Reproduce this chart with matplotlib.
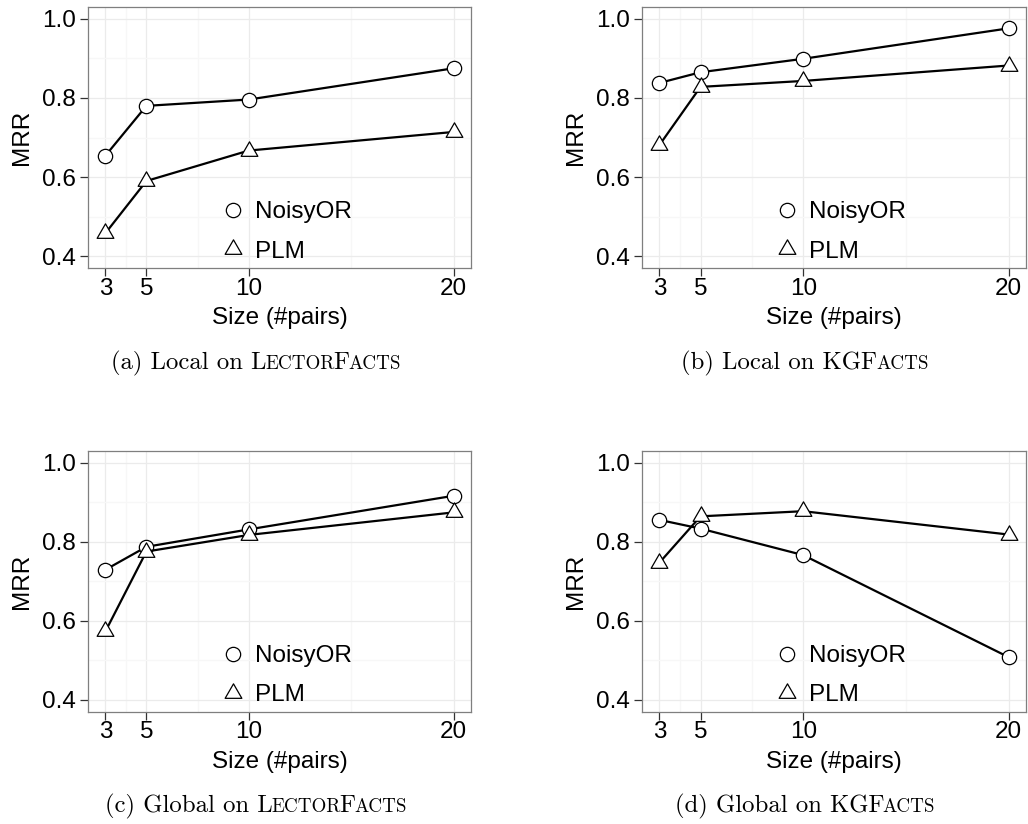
import matplotlib
matplotlib.use('Agg')
import matplotlib.pyplot as plt
from matplotlib.lines import Line2D
from matplotlib.path import Path
from matplotlib.offsetbox import TextArea, HPacker, AnchoredOffsetbox

# ---- data ----
sizes = [3, 5, 10, 20]

# (a) Local on LectorFacts
local_lector_noisyor = [0.654, 0.780, 0.796, 0.875]
local_lector_plm = [0.458, 0.590, 0.667, 0.714]
# (b) Local on KGFacts
local_kg_noisyor = [0.838, 0.865, 0.899, 0.976]
local_kg_plm = [0.681, 0.828, 0.843, 0.882]
# (c) Global on LectorFacts
global_lector_noisyor = [0.729, 0.787, 0.831, 0.916]
global_lector_plm = [0.573, 0.775, 0.817, 0.874]
# (d) Global on KGFacts
global_kg_noisyor = [0.855, 0.833, 0.766, 0.508]
global_kg_plm = [0.747, 0.864, 0.877, 0.818]

x_ticks = [3, 5, 10, 20]
x_minor = [4, 7.5, 15]
y_ticks = [0.4, 0.6, 0.8, 1.0]
y_minor = [0.5, 0.7, 0.9]
series_labels = ['NoisyOR', 'PLM']

# caption pieces: (text, small caps?)
captions = [
    [('(a) Local on L', False), ('ECTOR', True), ('F', False), ('ACTS', True)],
    [('(b) Local on KGF', False), ('ACTS', True)],
    [('(c) Global on L', False), ('ECTOR', True), ('F', False), ('ACTS', True)],
    [('(d) Global on KGF', False), ('ACTS', True)],
]

plt.rcParams['font.family'] = ['Liberation Sans', 'DejaVu Sans']

# triangle centred on its centroid (like R's pch 2)
tri = Path([(0, 1), (-0.866, -0.5), (0.866, -0.5), (0, 1)], closed=True)

FS = 17.5
CAP_FS = 17.8
W, H = 1028, 824


def panel(fig, rect, noisy, plm):
    ax = fig.add_axes(rect)
    ax.plot(sizes, noisy, color='black', lw=1.6, marker='o', ms=10.3,
            mfc='white', mec='black', mew=0.9, zorder=3)
    ax.plot(sizes, plm, color='black', lw=1.6, marker=tri, ms=13.9,
            mfc='white', mec='black', mew=0.9, zorder=3)

    ax.set_xlim(2.15, 20.85)
    ax.set_ylim(0.37, 1.03)
    ax.set_xticks(x_ticks)
    ax.set_xticks(x_minor, minor=True)
    ax.set_yticks(y_ticks)
    ax.set_yticks(y_minor, minor=True)
    ax.set_yticklabels(['%.1f' % v for v in y_ticks])
    ax.grid(which='major', color='#EBEBEB', lw=0.9)
    ax.grid(which='minor', color='#F7F7F7', lw=0.9)
    ax.set_axisbelow(True)
    for s in ax.spines.values():
        s.set_color('#7F7F7F')
        s.set_linewidth(0.9)
    ax.tick_params(which='major', length=5.5, width=0.9, color='#333333',
                   labelsize=FS, labelcolor='black')
    ax.tick_params(axis='x', pad=1.5)
    ax.tick_params(axis='y', pad=3.5)
    ax.tick_params(which='minor', length=0)
    ax.set_xlabel('Size (#pairs)', fontsize=FS, labelpad=5.5)
    ax.set_ylabel('MRR', fontsize=FS, labelpad=6)

    handles = [
        Line2D([], [], ls='none', marker='o', ms=10.3, mfc='white', mec='black', mew=0.9),
        Line2D([], [], ls='none', marker=tri, ms=13.9, mfc='white', mec='black', mew=0.9),
    ]
    ax.legend(handles, series_labels, loc='center left', bbox_to_anchor=(0.347, 0.138),
              frameon=False, fontsize=FS, handlelength=1.0, handletextpad=0.4,
              labelspacing=0.7, borderpad=0, borderaxespad=0)
    return ax


def caption(fig, pieces, xc, yc):
    boxes = []
    for txt, small in pieces:
        size = CAP_FS * 0.77 if small else CAP_FS
        boxes.append(TextArea(txt, textprops=dict(family='cmr10', size=size, color='black')))
    hp = HPacker(children=boxes, align='baseline', pad=0, sep=-1)
    ab = AnchoredOffsetbox(loc='center', child=hp, pad=0, borderpad=0, frameon=False,
                           bbox_to_anchor=(xc / W, 1 - yc / H),
                           bbox_transform=fig.transFigure)
    fig.add_artist(ab)


fig = plt.figure(figsize=(10.28, 8.24), dpi=100)

lefts = [88, 642]
widths = [383, 384]
tops = [7, 450.7]
ph = 261

data = [
    (local_lector_noisyor, local_lector_plm),
    (local_kg_noisyor, local_kg_plm),
    (global_lector_noisyor, global_lector_plm),
    (global_kg_noisyor, global_kg_plm),
]

for i, (noisy, plm) in enumerate(data):
    r, c = divmod(i, 2)
    rect = [lefts[c] / W, 1 - (tops[r] + ph) / H, widths[c] / W, ph / H]
    panel(fig, rect, noisy, plm)

cap_x = [256, 805]
cap_y = [363, 806]
for i, pieces in enumerate(captions):
    r, c = divmod(i, 2)
    caption(fig, pieces, cap_x[c], cap_y[r])

fig.savefig('out.png', dpi=100, facecolor='white')
